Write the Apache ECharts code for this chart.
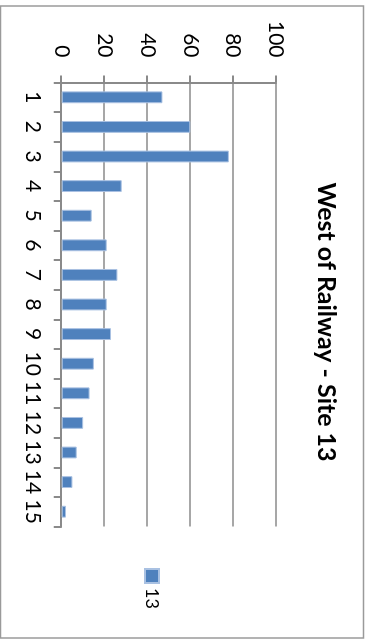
<!DOCTYPE html>
<html>
<head>
<meta charset="utf-8">
<script src="https://cdn.jsdelivr.net/npm/echarts@6/dist/echarts.min.js"></script>
<style>
  html, body { margin: 0; padding: 0; background: #fff; overflow: hidden; }
  #page { position: absolute; left: 0; top: 0; width: 368px; height: 644px; overflow: hidden; }
  /* The chart is laid out landscape and turned a quarter turn clockwise. */
  #chart {
    position: absolute; left: 0; top: 0;
    width: 644px; height: 368px;
    transform-origin: 0 0;
    transform: translate(368px, 0) rotate(90deg);
  }
</style>
</head>
<body>
<div id="page"><div id="chart"></div></div>
<script>
// Chart data
const chartTitle = 'West of Railway - Site 13';
const seriesName = '13';
const categories = ['1','2','3','4','5','6','7','8','9','10','11','12','13','14','15'];
const values = [47, 60, 78, 28, 14, 21, 26, 21, 23, 15, 13, 10, 7, 5, 2];
const valueMin = 0, valueMax = 100, valueStep = 20;

const FONT = 'Lato, "Open Sans", sans-serif';
const GRAY = '#8a8a8a';

const chart = echarts.init(document.getElementById('chart'), null, { renderer: 'canvas' });
chart.setOption({
  animation: false,
  backgroundColor: '#fff',
  title: {
    text: chartTitle,
    left: 'center',
    top: 29,
    padding: 0,
    textStyle: { fontFamily: FONT, fontWeight: 'bold', fontSize: 25, color: '#000' }
  },
  legend: {
    orient: 'vertical',
    left: 568,
    top: 207,
    padding: 0,
    itemWidth: 14,
    itemHeight: 14,
    icon: 'rect',
    textStyle: { fontFamily: FONT, fontSize: 18, color: '#000' },
    data: [seriesName]
  },
  grid: { left: 82.5, top: 92, width: 444, height: 214.3, containLabel: false },
  xAxis: {
    type: 'category',
    data: categories,
    axisLine: { lineStyle: { color: GRAY, width: 2 } },
    axisTick: { show: true, length: 8, lineStyle: { color: GRAY, width: 2 } },
    axisLabel: { margin: 18, fontFamily: FONT, fontSize: 21, color: '#000', interval: 0 }
  },
  yAxis: {
    type: 'value',
    min: valueMin, max: valueMax, interval: valueStep,
    axisLine: { show: true, lineStyle: { color: GRAY, width: 2 } },
    axisTick: { show: true, length: 7, lineStyle: { color: GRAY, width: 2 } },
    splitLine: { show: true, lineStyle: { color: GRAY, width: 1.6 } },
    axisLabel: { margin: 25, fontFamily: FONT, fontSize: 21, color: '#000' }
  },
  series: [{
    name: seriesName,
    type: 'bar',
    data: values,
    barWidth: '40%',
    itemStyle: { color: '#4f81bd', borderColor: '#a9c1e2', borderWidth: 1 }
  }],
  graphic: [{
    type: 'rect',
    shape: { x: 6, y: 4.5, width: 632, height: 363 },
    style: { fill: 'none', stroke: '#9a9a9a', lineWidth: 1.5 },
    silent: true
  }]
});
</script>
</body>
</html>
